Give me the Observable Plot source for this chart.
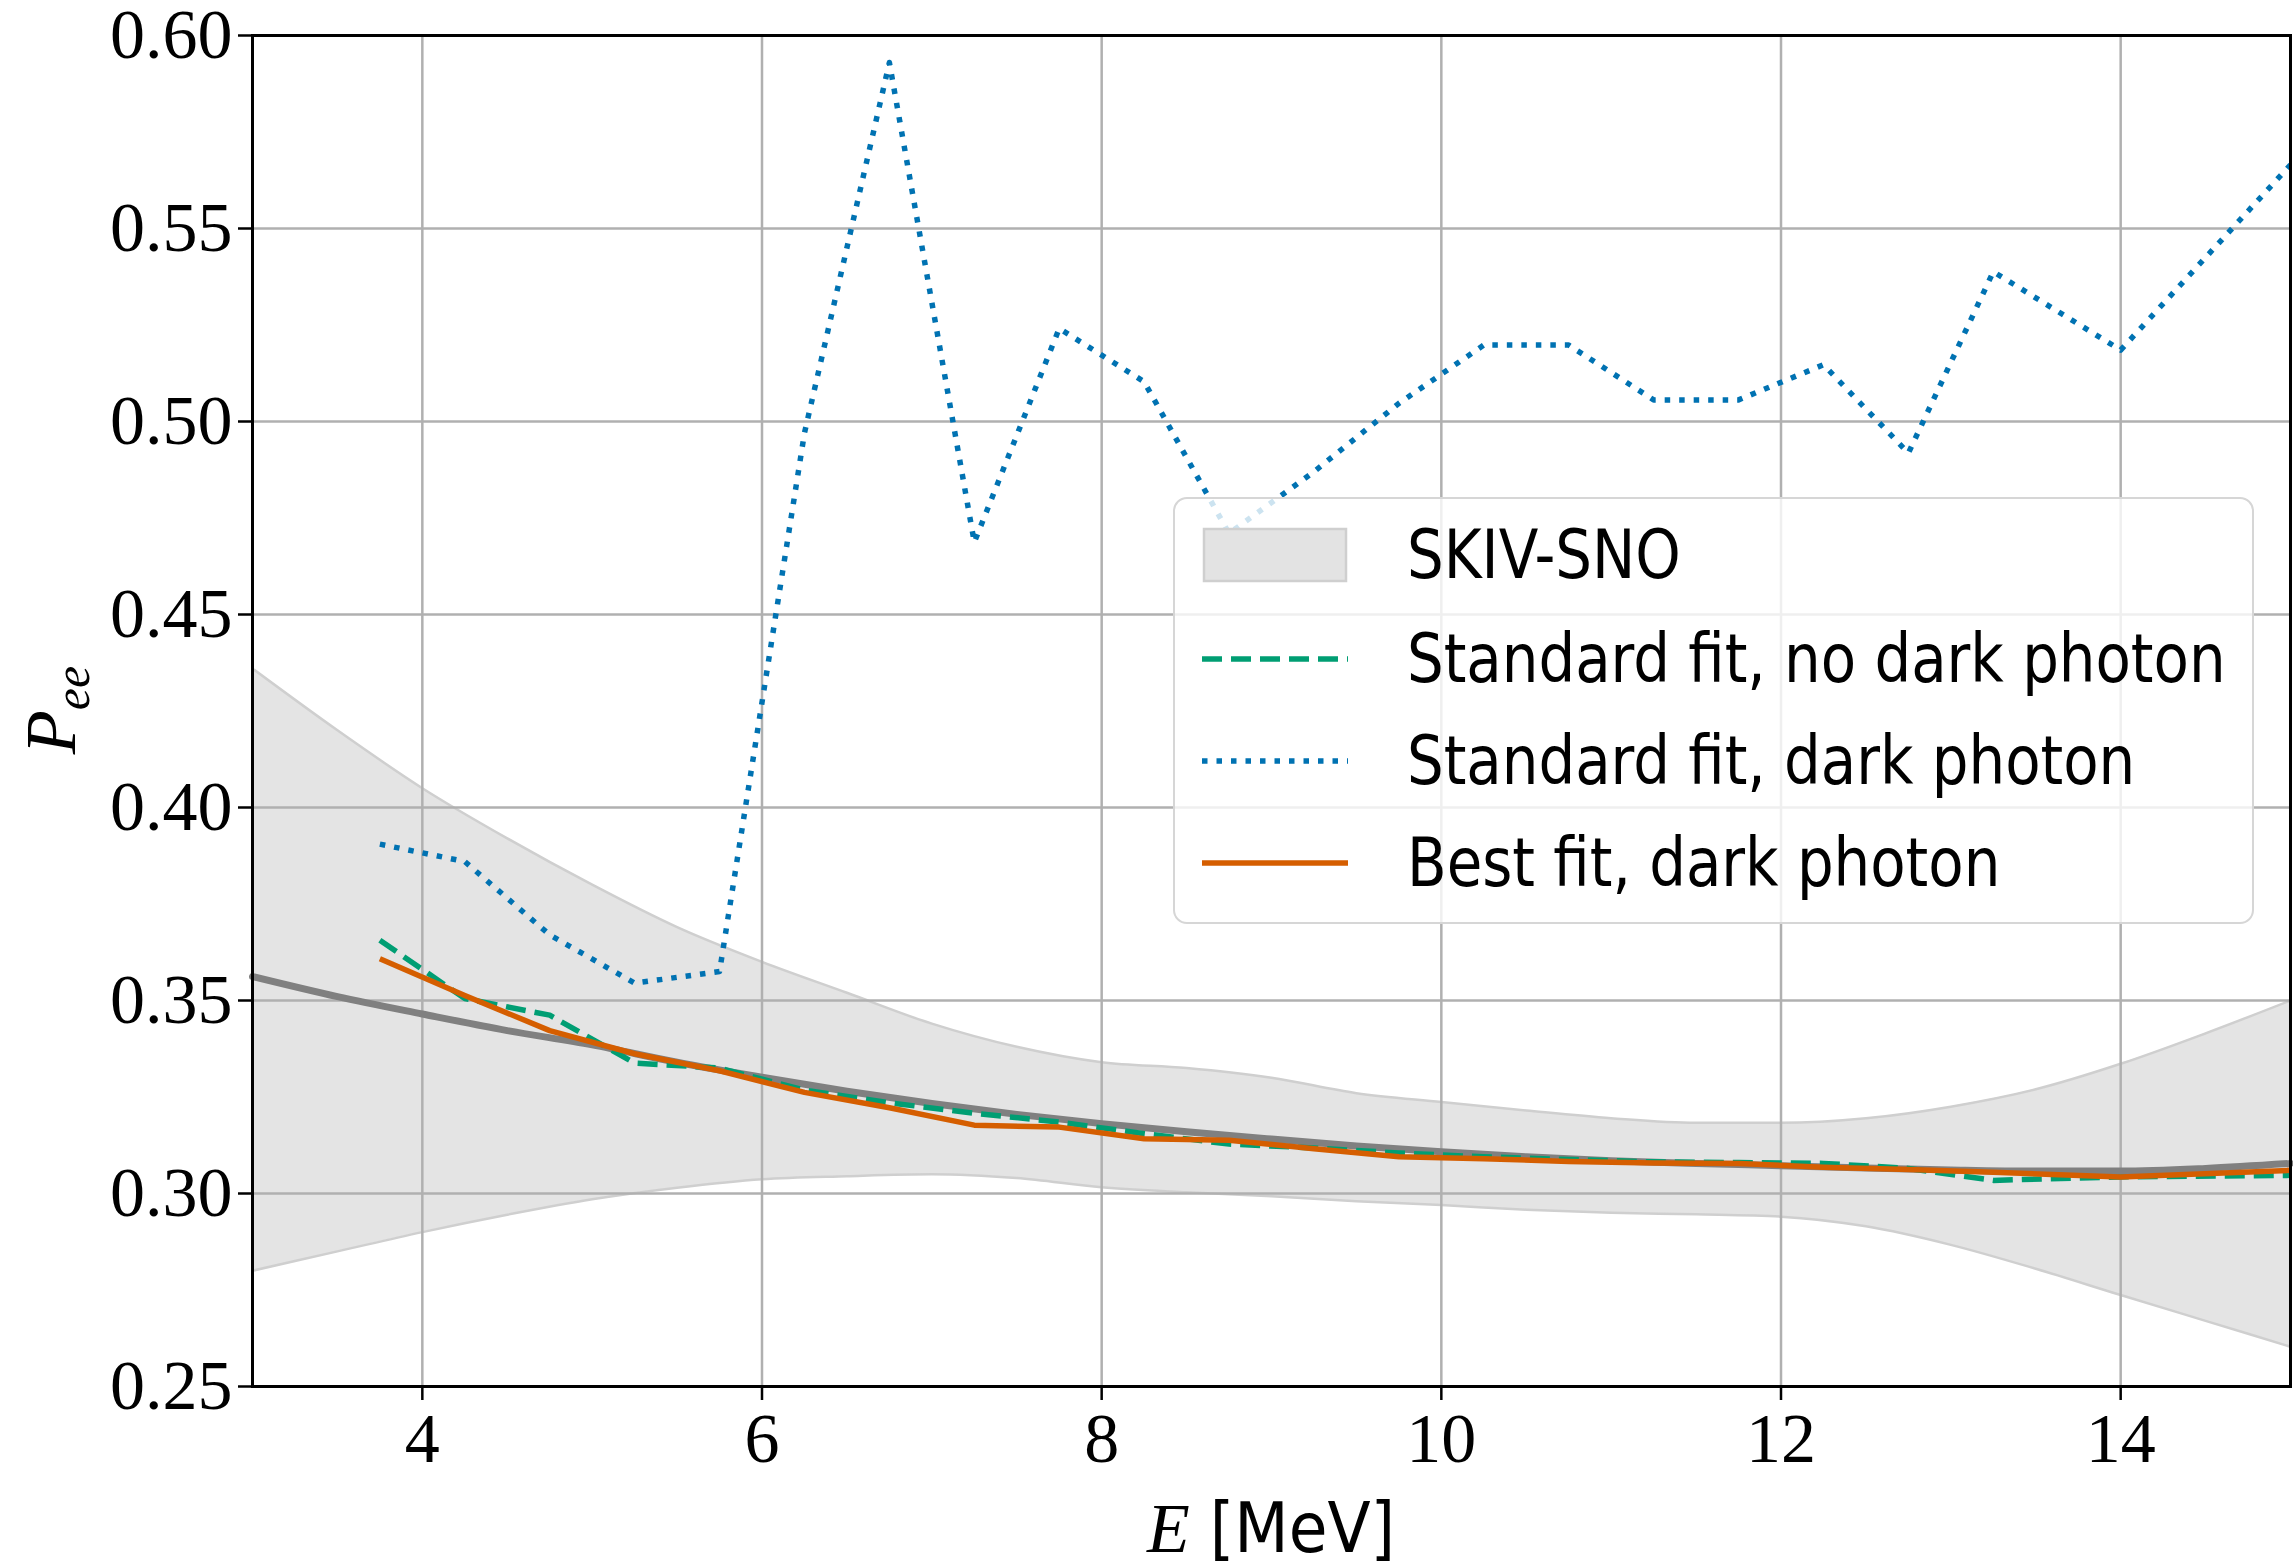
<!DOCTYPE html>
<html>
<head>
<meta charset="utf-8">
<script src="https://cdn.jsdelivr.net/npm/d3@7"></script>
<script src="https://cdn.jsdelivr.net/npm/@observablehq/plot@0.6"></script>
<style>
  html, body { margin: 0; padding: 0; background: #fff; }
  #wrap { position: relative; width: 2293px; height: 1568px; overflow: hidden; }
  #wrap > svg { position: absolute; left: 0; top: 0; }
  .legend {
    position: absolute; left: 1173px; top: 497px; width: 1081px; height: 427px;
    box-sizing: border-box; border: 2.5px solid #d6d6d6; border-radius: 14px;
    background: rgba(255,255,255,0.8);
  }
  .legend .row { position: absolute; left: 0; height: 0; }
  .legend .row svg.handle { position: absolute; left: 27px; top: -30px; }
  .legend .row span {
    position: absolute; left: 232px; top: 0; transform: translateY(-50%) scaleX(0.945); transform-origin: 0 50%;
    white-space: nowrap; font-family: "Liberation Sans Narrow", "DejaVu Sans Condensed", Roboto, sans-serif;
    font-size: 68px; color: #000; line-height: 1;
  }
  .ylab {
    position: absolute; left: 55px; top: 710px; transform: translate(-50%, -50%) rotate(-90deg);
    font-family: "Liberation Serif", serif; font-style: italic; font-size: 72px; white-space: nowrap;
  }
  .ylab sub { font-size: 50px; vertical-align: -14px; }
  .xlab {
    position: absolute; left: 1271px; top: 1528px; transform: translate(-50%, -50%);
    font-size: 70px; white-space: nowrap;
    font-family: "Liberation Sans Narrow", "DejaVu Sans Condensed", Roboto, sans-serif;
  }
  .xlab i { font-family: "Liberation Serif", serif; }
</style>
</head>
<body>
<div id="wrap"></div>
<script>
// ---- data ----
const binE     = [3.75, 4.25, 4.75, 5.25, 5.75, 6.25, 6.75, 7.25, 7.75, 8.25, 8.75, 9.25, 9.75, 10.25, 10.75, 11.25, 11.75, 12.25, 12.75, 13.25, 14.0, 15.0];
const stdNoDP  = [0.3656, 0.3505, 0.3462, 0.3338, 0.3325, 0.3268, 0.3235, 0.3208, 0.3185, 0.3155, 0.3128, 0.3118, 0.3105, 0.3095, 0.3088, 0.3082, 0.3080, 0.3078, 0.3065, 0.3034, 0.3043, 0.3047];
const stdDP    = [0.3905, 0.3860, 0.3670, 0.3545, 0.3575, 0.4970, 0.5930, 0.4687, 0.5241, 0.5103, 0.4710, 0.4870, 0.5047, 0.5198, 0.5198, 0.5056, 0.5056, 0.5147, 0.4918, 0.5388, 0.5185, 0.5665];
const bestDP   = [0.3608, 0.3513, 0.3422, 0.3362, 0.3318, 0.3262, 0.3222, 0.3177, 0.3172, 0.3142, 0.3138, 0.3116, 0.3095, 0.3090, 0.3083, 0.3079, 0.3078, 0.3068, 0.3062, 0.3055, 0.3043, 0.3060];

const bandE    = [3.0, 3.5, 4.0, 4.5, 5.0, 5.5, 6.0, 6.5, 7.0, 7.5, 8.0, 8.5, 9.0, 9.5, 10.0, 10.5, 11.0, 11.5, 12.0, 12.5, 13.0, 13.5, 14.0, 14.5, 15.0];
const bandHigh = [0.436, 0.420, 0.405, 0.392, 0.380, 0.369, 0.360, 0.352, 0.344, 0.338, 0.334, 0.3325, 0.330, 0.326, 0.3237, 0.3215, 0.3195, 0.3183, 0.3183, 0.3195, 0.3225, 0.327, 0.3336, 0.3415, 0.350];
const bandLow  = [0.280, 0.285, 0.290, 0.2945, 0.2985, 0.3015, 0.3037, 0.3045, 0.305, 0.304, 0.3016, 0.3003, 0.2993, 0.298, 0.297, 0.2958, 0.295, 0.2946, 0.294, 0.2915, 0.2867, 0.2805, 0.2737, 0.267, 0.2603];
const skCentral= [0.3562, 0.3510, 0.3465, 0.3422, 0.3385, 0.3340, 0.3301, 0.3265, 0.3233, 0.3205, 0.3181, 0.3160, 0.3141, 0.3123, 0.3108, 0.3095, 0.3085, 0.3078, 0.3072, 0.3066, 0.3061, 0.3058, 0.3058, 0.3065, 0.3078];

const xTicks = [4, 6, 8, 10, 12, 14];
const yTicks = [0.25, 0.30, 0.35, 0.40, 0.45, 0.50, 0.55, 0.60];

const legendLabels = ["SKIV-SNO", "Standard fit, no dark photon", "Standard fit, dark photon", "Best fit, dark photon"];

// ---- tables ----
const bins = binE.map((e, i) => ({e, noDP: stdNoDP[i], dp: stdDP[i], best: bestDP[i]}));
const band = bandE.map((e, i) => ({e, lo: bandLow[i], hi: bandHigh[i], c: skCentral[i]}));

const serif = "'Liberation Serif', serif";
const C = {green: "#009e73", blue: "#0072b2", orange: "#d55e00", gray: "#808080"};

const chart = Plot.plot({
  width: 2293,
  height: 1568,
  marginLeft: 252,
  marginRight: 3,
  marginTop: 35,
  marginBottom: 182,
  style: {fontFamily: serif, fontSize: "70px", background: "transparent", color: "#000", overflow: "visible"},
  x: {domain: [3, 15]},
  y: {domain: [0.25, 0.60]},
  marks: [
    Plot.areaY(band, {x: "e", y1: "lo", y2: "hi", fill: "#e4e4e4", curve: "monotone-x"}),
    Plot.lineY(band, {x: "e", y: "hi", stroke: "#cfcfcf", strokeWidth: 2.5, curve: "monotone-x"}),
    Plot.lineY(band, {x: "e", y: "lo", stroke: "#cfcfcf", strokeWidth: 2.5, curve: "monotone-x"}),
    Plot.gridX(xTicks, {stroke: "#b0b0b0", strokeOpacity: 1, strokeWidth: 2.5}),
    Plot.gridY(yTicks, {stroke: "#b0b0b0", strokeOpacity: 1, strokeWidth: 2.5}),
    Plot.lineY(band, {x: "e", y: "c", stroke: C.gray, strokeWidth: 7, curve: "monotone-x"}),
    Plot.lineY(bins, {x: "e", y: "noDP", stroke: C.green, strokeWidth: 5.5, strokeDasharray: "20,9", strokeLinecap: "butt", strokeLinejoin: "round"}),
    Plot.lineY(bins, {x: "e", y: "dp", stroke: C.blue, strokeWidth: 5.5, strokeDasharray: "5.5,9", strokeLinecap: "butt", strokeLinejoin: "round", clip: true}),
    Plot.lineY(bins, {x: "e", y: "best", stroke: C.orange, strokeWidth: 5.5, strokeLinecap: "butt", strokeLinejoin: "round"}),
    Plot.axisX(xTicks, {tickSize: 14, tickPadding: 12, strokeWidth: 2.5, tickFormat: d => String(d), label: null, fontSize: 70, fontFamily: serif}),
    Plot.axisY(yTicks, {tickSize: 14, tickPadding: 6, strokeWidth: 2.5, tickFormat: d3.format(".2f"), label: null, fontSize: 70, fontFamily: serif}),
    Plot.frame({stroke: "#000", strokeWidth: 3})
  ]
});

const wrap = document.getElementById("wrap");
wrap.appendChild(chart);

// ---- legend (HTML overlay, translucent like matplotlib) ----
const legend = document.createElement("div");
legend.className = "legend";
const rowTops = [56, 160, 262, 364];
const handles = [
  `<rect x="2" y="4" width="142" height="52" fill="#e3e3e3" stroke="#cfcfcf" stroke-width="2.5"/>`,
  `<line x1="0" y1="30" x2="146" y2="30" stroke="${C.green}" stroke-width="5.5" stroke-dasharray="20,9"/>`,
  `<line x1="0" y1="30" x2="146" y2="30" stroke="${C.blue}" stroke-width="5.5" stroke-dasharray="5.5,9"/>`,
  `<line x1="0" y1="30" x2="146" y2="30" stroke="${C.orange}" stroke-width="5.5"/>`
];
legendLabels.forEach((lab, i) => {
  const r = document.createElement("div");
  r.className = "row";
  r.style.top = rowTops[i] + "px";
  r.innerHTML = `<svg class="handle" width="150" height="60">${handles[i]}</svg><span>${lab}</span>`;
  legend.appendChild(r);
});
wrap.appendChild(legend);

const ylab = document.createElement("div");
ylab.className = "ylab";
ylab.innerHTML = "P<sub>ee</sub>";
wrap.appendChild(ylab);

const xlab = document.createElement("div");
xlab.className = "xlab";
xlab.innerHTML = "<i>E</i> [MeV]";
wrap.appendChild(xlab);
</script>
</body>
</html>
